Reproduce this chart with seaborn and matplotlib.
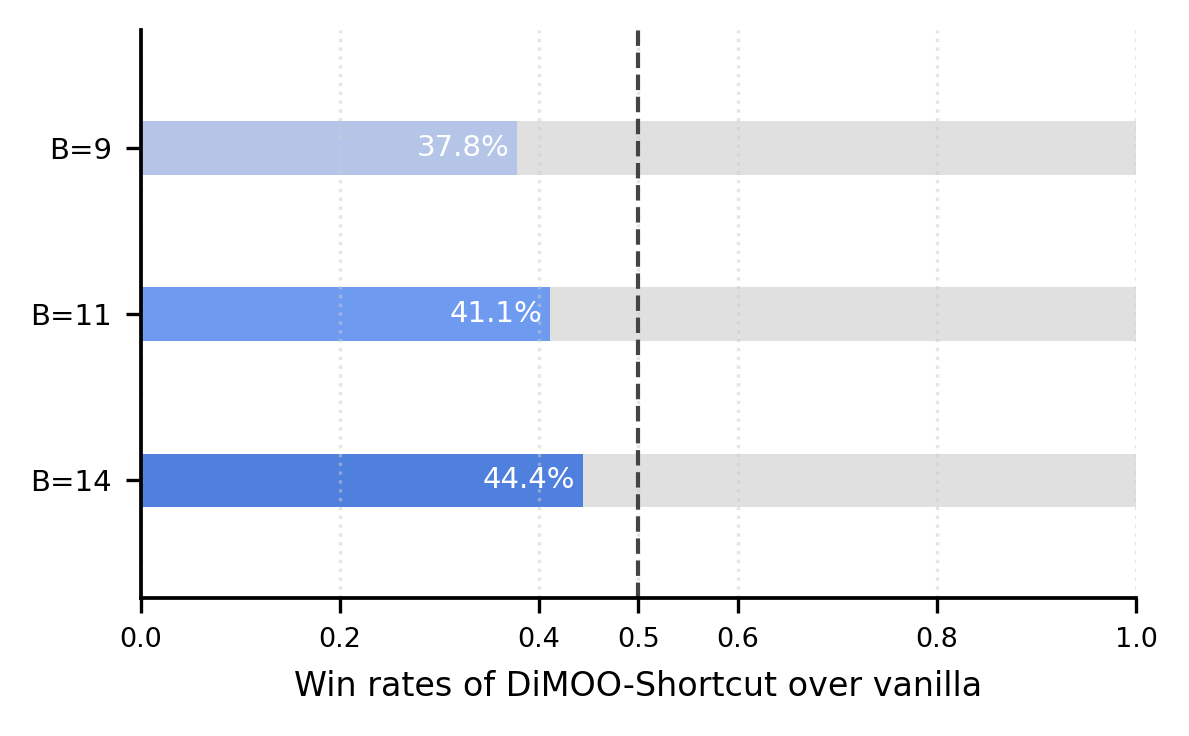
import matplotlib
matplotlib.use('Agg')
import matplotlib.pyplot as plt
import seaborn as sns
import pandas as pd

sns.set_style('white')
plt.rcParams['font.family'] = ['DejaVu Sans']
plt.rcParams.update({'text.color': 'black', 'axes.labelcolor': 'black',
                     'xtick.color': 'black', 'ytick.color': 'black'})

# data
labels = ['B=9', 'B=11', 'B=14']
win_rates = [0.378, 0.411, 0.444]
full = [1.0, 1.0, 1.0]
bar_colors = ['#b5c5e7', '#6e9bf0', '#4f80dd']

df = pd.DataFrame({'setting': labels, 'rate': win_rates, 'full': full})

fig = plt.figure(figsize=(1189 / 300, 736 / 300), dpi=300)
ax = fig.add_axes([0.1186, 0.1875, 0.9554 - 0.1186, 0.9592 - 0.1875])

# gray background track, then the win rate bars on top
sns.barplot(data=df, x='full', y='setting', orient='h', color='#e0e0e0',
            width=0.32, saturation=1, linewidth=0, ax=ax, zorder=1)
sns.barplot(data=df, x='rate', y='setting', orient='h', hue='setting',
            palette=bar_colors, width=0.32, saturation=1, linewidth=0,
            ax=ax, legend=False, zorder=2)

for i, v in enumerate(win_rates):
    ax.text(v - 0.008, i, f'{v * 100:.1f}%', ha='right', va='center',
            color='white', fontsize=7, zorder=4)

ax.axvline(0.5, color='#444444', linestyle='--', linewidth=1.0, zorder=5)

ax.set_xlim(0, 1.0)
ax.set_ylim(2.71, -0.71)
ax.set_xticks([0.0, 0.2, 0.4, 0.5, 0.6, 0.8, 1.0])
ax.set_xticklabels(['0.0', '0.2', '0.4', '0.5', '0.6', '0.8', '1.0'])
ax.xaxis.grid(True, linestyle=':', color='#cccccc', alpha=0.5, linewidth=0.8, zorder=3)
ax.set_axisbelow(False)

ax.set_xlabel('Win rates of DiMOO-Shortcut over vanilla', fontsize=8)
ax.set_ylabel('')
ax.tick_params(axis='x', labelsize=6.5, length=3.5, width=0.8, direction='out', bottom=True)
ax.tick_params(axis='y', labelsize=7, length=3.5, width=0.8, direction='out', left=True)
sns.despine(ax=ax)
for s in ['left', 'bottom']:
    ax.spines[s].set_linewidth(0.9)
    ax.spines[s].set_color('black')
    ax.spines[s].set_zorder(6)

fig.savefig('out.png', dpi=300)
